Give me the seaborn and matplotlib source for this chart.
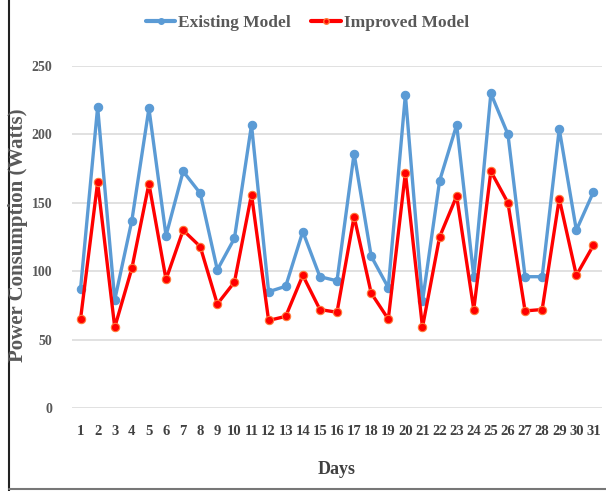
import matplotlib
matplotlib.use("Agg")
import matplotlib.pyplot as plt
from matplotlib.lines import Line2D
import seaborn as sns
import pandas as pd

days = list(range(1, 32))
existing_model = [87, 220, 79, 137, 219, 126, 173, 157, 101, 124,
                  207, 85, 89, 129, 96, 93, 186, 111, 88, 229,
                  78, 166, 207, 96, 230, 200, 96, 96, 204, 130, 158]
improved_model = [65, 165, 59, 102, 164, 94, 130, 118, 76, 92,
                  156, 64, 67, 97, 72, 70, 140, 84, 65, 172,
                  59, 125, 155, 72, 173, 150, 71, 72, 153, 97, 119]
series_names = ["Existing Model", "Improved Model"]
y_ticks = [0, 50, 100, 150, 200, 250]

df = pd.DataFrame({
    "Day": days * 2,
    "Power": existing_model + improved_model,
    "Model": [series_names[0]] * len(days) + [series_names[1]] * len(days),
})

sns.set_theme(style="white")
plt.rcParams["font.family"] = ["Liberation Serif", "DejaVu Serif"]
plt.rcParams["font.weight"] = "bold"

fig = plt.figure(figsize=(6.06, 4.91), dpi=100)
ax = fig.add_axes([0.1188, 0.169, 0.8746, 0.6965])

palette = {series_names[0]: "#5b9bd5", series_names[1]: "#ff0000"}
sns.lineplot(data=df, x="Day", y="Power", hue="Model", palette=palette,
             marker="o", markersize=6, linewidth=2.4, markeredgewidth=0.8,
             ax=ax, legend=False)
for line, name in zip(ax.get_lines(), series_names):
    line.set_markeredgecolor("#ff7a3a" if name == series_names[1] else palette[name])

ax.set_xlim(0.5, 31.5)
ax.set_ylim(0, 250)
ax.set_xticks(days)
ax.set_xticklabels([str(d) for d in days], fontsize=10.5, color="#404040",
                   fontweight="bold")
ax.set_yticks(y_ticks)
ax.set_yticklabels([str(v) for v in y_ticks], fontsize=10, color="#595959",
                   fontweight="bold")
ax.tick_params(axis="x", length=0, pad=12)
ax.tick_params(axis="y", length=0, pad=14)
ax.yaxis.grid(True, color="#d9d9d9", linewidth=1.1)
ax.xaxis.grid(False)
for s in ax.spines.values():
    s.set_visible(False)

ax.set_xlabel("Days", fontsize=13, fontweight="bold", color="#404040", labelpad=17)
ax.set_ylabel("")
fig.text(18 / 606, 1 - 235 / 491, "Power Consumption (Watts)", rotation=90,
         ha="center", va="center", fontsize=15, fontweight="bold",
         color="#595959")

handles = [Line2D([0], [0], color=palette[n], linewidth=3, marker="o",
                  markersize=4, markeredgecolor=("#ff7a3a" if n == series_names[1] else palette[n]))
           for n in series_names]
leg = fig.legend(handles, series_names, loc="center", bbox_to_anchor=(0.507, 0.953),
                 ncol=2, frameon=False, fontsize=12.5, handlelength=1.7,
                 handletextpad=0.15, columnspacing=1.2)
for t in leg.get_texts():
    t.set_color("#595959")
    t.set_fontweight("bold")

# outer frame of the figure
fig.add_artist(Line2D([0.015, 0.015], [0.0, 1.0], transform=fig.transFigure,
                      color="#222222", linewidth=1.5))
fig.add_artist(Line2D([0.015, 1.0], [0.004, 0.004], transform=fig.transFigure,
                      color="#777777", linewidth=1.5))

fig.savefig("out.png", dpi=100)
